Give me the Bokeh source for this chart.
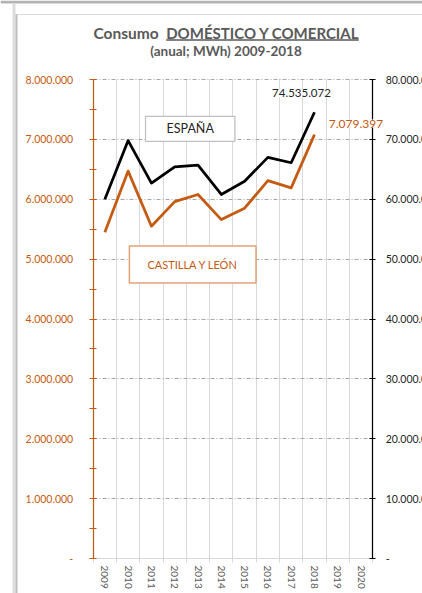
from bokeh.plotting import figure
from bokeh.models import Range1d, LinearAxis, FixedTicker, Label, BoxAnnotation, Grid
from bokeh.embed import file_html
from bokeh.resources import INLINE

# ---------------- data ----------------
years = ["2009", "2010", "2011", "2012", "2013", "2014", "2015", "2016", "2017", "2018", "2019", "2020"]
data_years = years[:10]
espana = [60.0e6, 69.8e6, 62.7e6, 65.4e6, 65.7e6, 60.8e6, 63.0e6, 67.0e6, 66.1e6, 74535072]
cyl = [5.45e6, 6.47e6, 5.55e6, 5.96e6, 6.08e6, 5.66e6, 5.85e6, 6.31e6, 6.19e6, 7079397]
espana_last_label = "74.535.072"
cyl_last_label = "7.079.397"

left_ticks = [0, 1e6, 2e6, 3e6, 4e6, 5e6, 6e6, 7e6, 8e6]
left_tick_labels = ["-", "1.000.000", "2.000.000", "3.000.000", "4.000.000",
                    "5.000.000", "6.000.000", "7.000.000", "8.000.000"]
right_ticks = [0, 10e6, 20e6, 30e6, 40e6, 50e6, 60e6, 70e6, 80e6]
right_tick_labels = ["-", "10.000.000", "20.000.000", "30.000.000", "40.000.000",
                     "50.000.000", "60.000.000", "70.000.000", "80.000.000"]

title_a = "Consumo"
title_b = "DOMÉSTICO Y COMERCIAL"
subtitle = "(anual; MWh) 2009-2018"
series_names = ["ESPAÑA", "CASTILLA Y LEÓN"]

# ---------------- layout / style ----------------
W, H = 422, 593
ORANGE = "#C55A11"
FONT = "Lato"
TITLE_C = "#595959"
AXIS_LEFT_PX, AXIS_RIGHT_PX = 92.7, 372.2     # page x of the two value axes
ZERO_PX, TOP_PX = 558.0, 79.0                 # page y of 0 and of 8.000.000
LEFT_MAX = left_ticks[-1]
n_cat = len(years)
cw = (AXIS_RIGHT_PX - AXIS_LEFT_PX) / n_cat   # px per category
ppu = (ZERO_PX - TOP_PX) / LEFT_MAX           # px per MWh (left scale)
ratio = right_ticks[-1] / LEFT_MAX


def yd(py):
    """page y (px) -> left-axis data value, for placing annotations"""
    return (ZERO_PX - py) / ppu


cat_pos = {y: i + 0.5 for i, y in enumerate(years)}
xs = [cat_pos[y] for y in data_years]

x_range = Range1d(-AXIS_LEFT_PX / cw, (W - AXIS_LEFT_PX) / cw)
y_range = Range1d(yd(H), yd(0))

p = figure(width=W, height=H, x_range=x_range, y_range=y_range,
           output_backend="svg", toolbar_location=None,
           min_border_left=0, min_border_right=0, min_border_top=0, min_border_bottom=0)
p.extra_y_ranges = {"right": Range1d(yd(H) * ratio, yd(0) * ratio)}
p.outline_line_color = None
p.background_fill_color = "white"
p.border_fill_color = "white"

# x axis (category axis)
xa = p.xaxis[0]
xa.fixed_location = 0
xa.bounds = (0, n_cat)
xa.ticker = FixedTicker(ticks=[cat_pos[y] for y in years], minor_ticks=list(range(n_cat + 1)))
xa.major_label_overrides = {cat_pos[y]: y for y in years}
xa.major_label_orientation = "vertical"
xa.major_tick_line_color = None
xa.major_tick_in = 0
xa.major_tick_out = 0
xa.minor_tick_line_color = "#D9D9D9"
xa.minor_tick_in = 0
xa.minor_tick_out = 4
xa.axis_line_color = "#D9D9D9"
xa.major_label_standoff = 3
xa.major_label_text_font = FONT
xa.major_label_text_font_size = "10px"
xa.major_label_text_color = TITLE_C

# left axis (Castilla y León)
ya = p.yaxis[0]
ya.fixed_location = 0
ya.bounds = (0, LEFT_MAX)
ya.ticker = FixedTicker(ticks=left_ticks, minor_ticks=[t + 5e5 for t in left_ticks[:-1]])
ya.major_label_overrides = dict(zip(left_ticks, left_tick_labels))
ya.axis_line_color = ORANGE
ya.axis_line_width = 1.25
ya.major_tick_line_color = ORANGE
ya.minor_tick_line_color = ORANGE
ya.major_tick_in = 3
ya.major_tick_out = 4
ya.minor_tick_in = 3
ya.minor_tick_out = 4
ya.major_label_standoff = 16
ya.major_label_text_font = FONT
ya.major_label_text_font_size = "10.5px"
ya.major_label_text_color = ORANGE

# right axis (España)
ra = LinearAxis(y_range_name="right", ticker=FixedTicker(ticks=right_ticks))
ra.fixed_location = n_cat
ra.bounds = (0, right_ticks[-1])
ra.major_label_overrides = dict(zip(right_ticks, right_tick_labels))
ra.axis_line_color = "black"
ra.axis_line_width = 1.25
ra.major_tick_line_color = "black"
ra.major_tick_in = 3
ra.major_tick_out = 3
ra.minor_tick_line_color = None
ra.major_label_standoff = 10
ra.major_label_text_font = FONT
ra.major_label_text_font_size = "10.5px"
ra.major_label_text_color = "#262626"
p.add_layout(ra, "right")

# grids
boundaries = list(range(1, n_cat))
has_cb = "cross_bounds" in Grid.properties()
p.xgrid[0].ticker = FixedTicker(ticks=boundaries)
p.ygrid[0].ticker = FixedTicker(ticks=left_ticks[1:])
if has_cb:
    p.xgrid[0].cross_bounds = (0, LEFT_MAX)
    p.ygrid[0].cross_bounds = (0, n_cat)
    p.xgrid[0].grid_line_color = "#D9D9D9"
    p.ygrid[0].grid_line_color = "#A6A6A6"
    p.ygrid[0].grid_line_dash = "4 2 1 2"
else:
    p.xgrid[0].grid_line_color = None
    p.ygrid[0].grid_line_color = None
    p.segment(x0=boundaries, y0=[0] * len(boundaries), x1=boundaries, y1=[LEFT_MAX] * len(boundaries),
              line_color="#D9D9D9", line_width=1)
    hl = left_ticks[1:]
    p.segment(x0=[0] * len(hl), y0=hl, x1=[n_cat] * len(hl), y1=hl,
              line_color="#A6A6A6", line_width=1, line_dash="4 2 1 2")

# lines
p.line(xs, espana, y_range_name="right", line_color="black", line_width=2.75, line_join="round")
p.line(xs, cyl, line_color=ORANGE, line_width=2.75, line_join="round")

# data labels
p.add_layout(Label(x=xs[-1], y=espana[-1], y_range_name="right", text=espana_last_label,
                   x_offset=-13, y_offset=19, text_align="center", text_baseline="middle",
                   text_font=FONT, text_font_size="11.5px", text_color="#262626",
                   background_fill_color="white"))
p.add_layout(Label(x=xs[-1], y=cyl[-1], text=cyl_last_label,
                   x_offset=41.5, y_offset=11, text_align="center", text_baseline="middle",
                   text_font=FONT, text_font_size="12px", text_color=ORANGE,
                   background_fill_color="white"))

# series boxes
p.add_layout(Label(x=189.7, x_units="screen", y=yd(128.4), text=series_names[0], text_align="center",
                   text_baseline="middle", text_font=FONT, text_font_size="12.5px",
                   text_color="#262626", background_fill_color="white",
                   border_line_color="#BFBFBF", border_line_width=1.25,
                   padding=dict(left=21, right=21, top=5, bottom=5)))
p.add_layout(Label(x=192.2, x_units="screen", y=yd(264), text=series_names[1], text_align="center",
                   text_baseline="middle", text_font=FONT, text_font_size="11px",
                   text_color=ORANGE, background_fill_color="white",
                   border_line_color="#E3A277", border_line_width=1.5,
                   padding=dict(left=18, right=18, top=12, bottom=12)))

# titles
p.add_layout(Label(x=93, x_units="screen", y=yd(32), text=title_a, text_align="left",
                   text_baseline="middle", text_font=FONT, text_font_size="15.5px",
                   text_font_style="bold", text_color=TITLE_C))
p.add_layout(Label(x=165.7, x_units="screen", y=yd(32), text=title_b, text_align="left",
                   text_baseline="middle", text_font=FONT, text_font_size="15px",
                   text_font_style="bold", text_color=TITLE_C))
p.add_layout(BoxAnnotation(left=165.7, right=358.3, left_units="screen", right_units="screen",
                           top=yd(38.8), bottom=yd(40.2), fill_color=TITLE_C, fill_alpha=1,
                           line_color=None))
p.add_layout(Label(x=225.5, x_units="screen", y=yd(50), text=subtitle, text_align="center",
                   text_baseline="middle", text_font=FONT, text_font_size="13.5px",
                   text_font_style="bold", text_color=TITLE_C))

# sheet edges of the original screenshot
for l, r, t, b, c in [(0, W, 0, 3, "#B4B4B4"), (15, W, 13.5, 14.5, "#DADADA"),
                      (12, 15, 3, H, "#DCDCDC"), (15, 17, 14, H, "#BDBDBD")]:
    p.add_layout(BoxAnnotation(left=l, right=r, left_units="screen", right_units="screen",
                               top=yd(t), bottom=yd(b), fill_color=c, fill_alpha=1,
                               line_color=None, level="underlay"))

open("out.html", "w").write(file_html(p, INLINE))
